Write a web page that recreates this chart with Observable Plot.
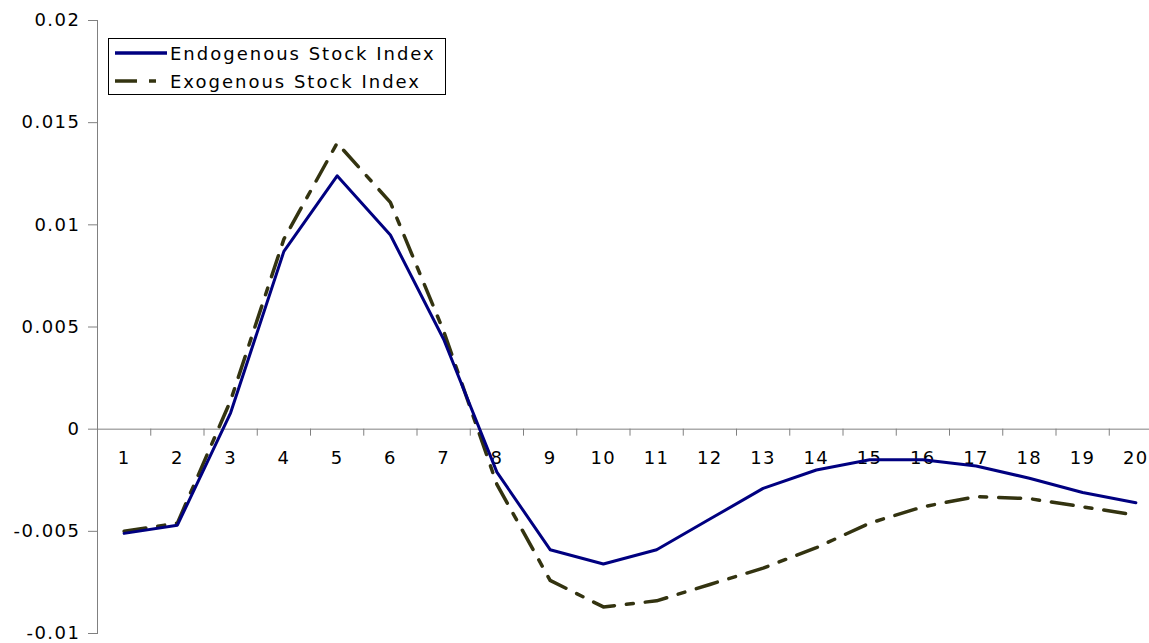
<!DOCTYPE html>
<html>
<head>
<meta charset="utf-8">
<script src="https://cdn.jsdelivr.net/npm/d3@7"></script>
<script src="https://cdn.jsdelivr.net/npm/@observablehq/plot@0.6"></script>
<style>
  body { margin: 0; background: #fff; }
  #wrap { position: relative; width: 1149px; height: 643px; overflow: hidden; }
  #legend {
    position: absolute; left: 108px; top: 38px; width: 338px; height: 57px;
    border: 1px solid #000; background: #fff; box-sizing: border-box;
    font-family: "DejaVu Sans", sans-serif; font-size: 18px; letter-spacing: 2px;
  }
  #legend .row { position: absolute; left: 6px; height: 22px; display: flex; align-items: center; }
  #legend svg { margin-right: 3px; }
</style>
</head>
<body>
<div id="wrap">
  <div id="chart"></div>
  <div id="legend"></div>
</div>
<script>
const periods = d3.range(1, 21);
const endogenous = [-0.0051, -0.0047, 0.0008, 0.0087, 0.0124, 0.0095, 0.0044, -0.0021, -0.0059, -0.0066,
                    -0.0059, -0.0044, -0.0029, -0.0020, -0.0015, -0.0015, -0.0018, -0.0024, -0.0031, -0.0036];
const exogenous = [-0.0050, -0.0046, 0.0014, 0.0093, 0.0140, 0.0111, 0.0048, -0.0027, -0.0074, -0.0087,
                   -0.0084, -0.0076, -0.0068, -0.0058, -0.0046, -0.0038, -0.0033, -0.0034, -0.0038, -0.0042];
const seriesNames = ["Endogenous Stock Index", "Exogenous Stock Index"];
const yTicks = [-0.01, -0.005, 0, 0.005, 0.01, 0.015, 0.02];
const yTickLabels = ["-0.01", "-0.005", "0", "0.005", "0.01", "0.015", "0.02"];

const blue = "#000080";
const olive = "#333310";
const dash = "22,12,7,12";
const font = "DejaVu Sans, sans-serif";

const endoData = periods.map((p, i) => ({period: p, value: endogenous[i]}));
const exoData = periods.map((p, i) => ({period: p, value: exogenous[i]}));
// category boundaries, for the tick marks on the zero line
const bounds = periods.map(p => p + 0.5);

const chart = Plot.plot({
  width: 1149,
  height: 643,
  marginLeft: 97,
  marginRight: -13,
  marginTop: 20,
  marginBottom: 10,
  style: {fontFamily: font, fontSize: "18px", letterSpacing: "1.5px", color: "#000", overflow: "visible"},
  x: {type: "linear", domain: [0.5, 20.5], axis: null},
  y: {domain: [-0.01, 0.02], axis: null},
  marks: [
    Plot.frame({anchor: "left", stroke: "#808080"}),
    Plot.axisY({
      ticks: yTicks,
      tickFormat: d => yTickLabels[yTicks.indexOf(d)],
      label: null,
      tickSize: 9,
      tickPadding: 8,
      stroke: "#808080",
      fill: "#000",
      fontSize: 18
    }),
    Plot.ruleY([0], {stroke: "#808080"}),
    Plot.ruleX(bounds, {x: d => d, y1: 0, y2: 0, insetBottom: -7, stroke: "#808080"}),
    Plot.text(periods, {x: d => d, y: 0, dy: 29, text: d => String(d), fill: "#000", fontSize: 18}),
    Plot.line(exoData, {x: "period", y: "value", stroke: olive, strokeWidth: 3.5, strokeDasharray: dash}),
    Plot.line(endoData, {x: "period", y: "value", stroke: blue, strokeWidth: 3})
  ]
});
d3.select("#chart").append(() => chart);

// legend box inside the plot area
const legend = d3.select("#legend");
[[seriesNames[0], blue, null, 3], [seriesNames[1], olive, dash, 31]].forEach(([name, color, da, top]) => {
  const row = legend.append("div").attr("class", "row").style("top", top + "px");
  const sw = row.append("svg").attr("width", 52).attr("height", 6);
  sw.append("line").attr("x1", 0).attr("x2", 52).attr("y1", 3).attr("y2", 3)
    .attr("stroke", color).attr("stroke-width", 3.5).attr("stroke-dasharray", da);
  row.append("span").text(name);
});
</script>
</body>
</html>
